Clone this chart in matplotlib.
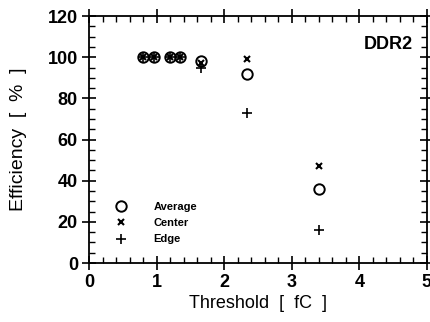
import matplotlib
matplotlib.use("Agg")
import matplotlib.pyplot as plt
from matplotlib.ticker import MultipleLocator

plt.rcParams['font.family'] = ['Liberation Sans', 'DejaVu Sans']

# Efficiency vs threshold, DDR2
threshold = [0.80, 0.96, 1.20, 1.35, 1.66, 2.34, 3.40]
average = [100, 100, 100, 100, 98, 92, 36]
center = [100, 100, 100, 100, 97, 99, 47]
edge = [100, 100, 100, 100, 95, 73, 16]

fig = plt.figure(figsize=(4.31, 3.22), dpi=100)
ax = fig.add_axes([0.2065, 0.183, 0.784, 0.767])

ax.plot(threshold, average, 'o', mfc='none', mec='black', ms=7.5, mew=1.4, label='Average')
ax.plot(threshold, center, 'x', color='black', ms=4.5, mew=1.5, label='Center')
ax.plot(threshold, edge, '+', color='black', ms=7, mew=1.2, label='Edge')

ax.set_xlim(0, 5)
ax.set_ylim(0, 120)
ax.xaxis.set_major_locator(MultipleLocator(1))
ax.xaxis.set_minor_locator(MultipleLocator(0.2))
ax.yaxis.set_major_locator(MultipleLocator(20))
ax.yaxis.set_minor_locator(MultipleLocator(5))
ax.tick_params(which='major', direction='inout', length=10, width=1.2,
               top=True, right=True, labelsize=13, pad=3)
ax.tick_params(which='minor', direction='in', length=4, width=1.0,
               top=True, right=True)
for lab in ax.get_xticklabels() + ax.get_yticklabels():
    lab.set_fontweight('bold')
for s in ax.spines.values():
    s.set_linewidth(1.3)

ax.set_xlabel('Threshold  [  fC  ]', fontsize=13, labelpad=3)
ax.set_ylabel('Efficiency  [  %  ]', fontsize=14, labelpad=15)

ax.text(4.79, 106, 'DDR2', fontsize=13, fontweight='bold', ha='right', va='center')

ax.legend(loc='lower left', bbox_to_anchor=(0.05, 0.035), frameon=False,
          prop={'weight': 'bold', 'size': 8}, handlelength=1.0,
          handletextpad=2.4, labelspacing=0.55)

fig.savefig('out.png', dpi=100)
